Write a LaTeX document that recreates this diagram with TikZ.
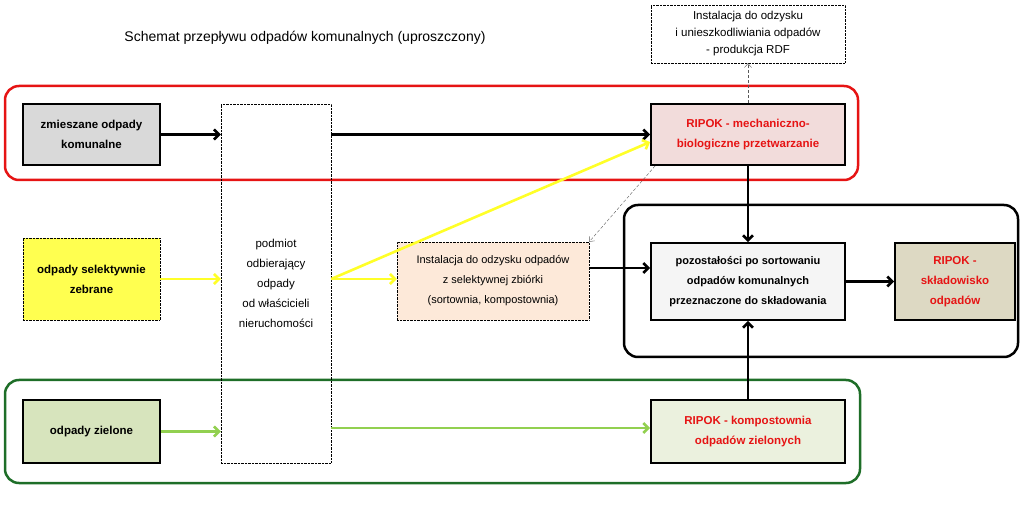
\documentclass[tikz,border=0pt]{standalone}
\usepackage{fontspec}
\setmainfont{Liberation Sans}
\usetikzlibrary{arrows.meta}
\definecolor{ripokred}{RGB}{230,20,20}
\definecolor{mixgray}{RGB}{217,217,217}
\definecolor{selyellow}{RGB}{255,255,80}
\definecolor{greenfill}{RGB}{215,228,189}
\definecolor{lightgreen}{RGB}{235,241,222}
\definecolor{pinkfill}{RGB}{242,220,219}
\definecolor{peach}{RGB}{253,233,217}
\definecolor{tanfill}{RGB}{221,217,195}
\definecolor{framegreen}{RGB}{30,110,40}
\definecolor{arrowyellow}{RGB}{255,255,40}
\definecolor{arrowgreen}{RGB}{146,208,80}
\tikzset{
  box/.style={draw, line width=1.8pt, align=center, inner sep=1pt,
    font=\fontsize{11.5}{20}\selectfont\bfseries},
  dashbox/.style={draw, densely dotted, thin, align=center, inner sep=1pt,
    font=\fontsize{11.5}{17}\selectfont},
  frame/.style={rounded corners=14pt, line width=2.5pt},
  flow/.style={-{Straight Barb[length=5pt,width=10pt]}, line width=2.6pt},
  thinflow/.style={-{Straight Barb[length=4pt,width=7pt]}, densely dashed, thin, gray!70!black}
}
\begin{document}
\begin{tikzpicture}[x=1pt,y=-1pt]
\useasboundingbox (0,0) rectangle (1023,526);
\node (title) at (305,38) {\fontsize{14}{16}\selectfont Schemat przepływu odpadów komunalnych (uproszczony)};

% frames
\draw[frame, ripokred] (5,86) rectangle (858,180);
\draw[frame, black] (624,205) rectangle (1018,357);
\draw[frame, framegreen] (5,380) rectangle (860,483);

% boxes
\node[box, fill=mixgray, minimum width=137pt, minimum height=61pt] (mixed) at (91.5,134.5) {zmieszane odpady\\komunalne};
\node[dashbox, minimum width=110pt, minimum height=359pt] (collector) at (276,283.5) {};
\node[font=\fontsize{11.5}{20}\selectfont, align=center] (collectortxt) at (276,283) {podmiot\\odbierający\\odpady\\od właścicieli\\nieruchomości};
\node[box, fill=pinkfill, text=ripokred, minimum width=194pt, minimum height=61pt] (mbt) at (748,134.5) {RIPOK - mechaniczno-\\biologiczne przetwarzanie};
\node[dashbox, minimum width=194pt, minimum height=58pt] (rdf) at (748,34) {Instalacja do odzysku\\i unieszkodliwiania odpadów\\- produkcja RDF};
\node[dashbox, fill=selyellow, minimum width=137pt, minimum height=82pt, font=\fontsize{11.5}{20}\selectfont\bfseries] (selective) at (91.5,279) {odpady selektywnie\\zebrane};
\node[dashbox, fill=peach, minimum width=192pt, minimum height=78pt, font=\fontsize{11}{20}\selectfont] (recovery) at (493,281) {Instalacja do odzysku odpadów\\z selektywnej zbiórki\\(sortownia, kompostownia)};
\node[box, fill=gray!8, minimum width=194pt, minimum height=77pt, font=\fontsize{11}{20}\selectfont\bfseries] (residue) at (748,281.5) {pozostałości po sortowaniu\\odpadów komunalnych\\przeznaczone do składowania};
\node[box, fill=tanfill, text=ripokred, minimum width=120pt, minimum height=77pt, font=\fontsize{11.5}{20}\selectfont\bfseries] (landfill) at (955,281.5) {RIPOK -\\składowisko\\odpadów};
\node[box, fill=greenfill, minimum width=137pt, minimum height=63pt] (green) at (91.5,431.5) {odpady zielone};
\node[box, fill=lightgreen, text=ripokred, minimum width=194pt, minimum height=63pt] (compost) at (748,431.5) {RIPOK - kompostownia\\odpadów zielonych};

% connectors
\draw[flow] (mixed.east) -- (collector.west |- mixed.east);
\draw[flow] (collector.east |- mixed.east) -- (mbt.west);
\draw[flow, arrowyellow] (selective.east) -- (collector.west |- selective.east);
\coordinate (split) at (collector.east |- selective.east);
\draw[flow, arrowyellow] (split) -- (recovery.west |- split);
\draw[flow, arrowyellow] (split) -- (mbt.west |- 0,142);
\draw[thinflow] (mbt.south west) ++(5,0) -- (recovery.north east);
\draw[thinflow] (mbt.north) -- (rdf.south);
\draw[flow] (mbt.south) -- (residue.north);
\draw[flow] (recovery.east |- 0,268) -- (residue.west |- 0,268);
\draw[flow] (residue.east) -- (landfill.west);
\draw[flow] (compost.north) -- (residue.south);
\draw[flow, arrowgreen] (green.east) -- (collector.west |- green.east);
\draw[flow, arrowgreen] (collector.east |- 0,428) -- (compost.west |- 0,428);
\end{tikzpicture}
\end{document}
